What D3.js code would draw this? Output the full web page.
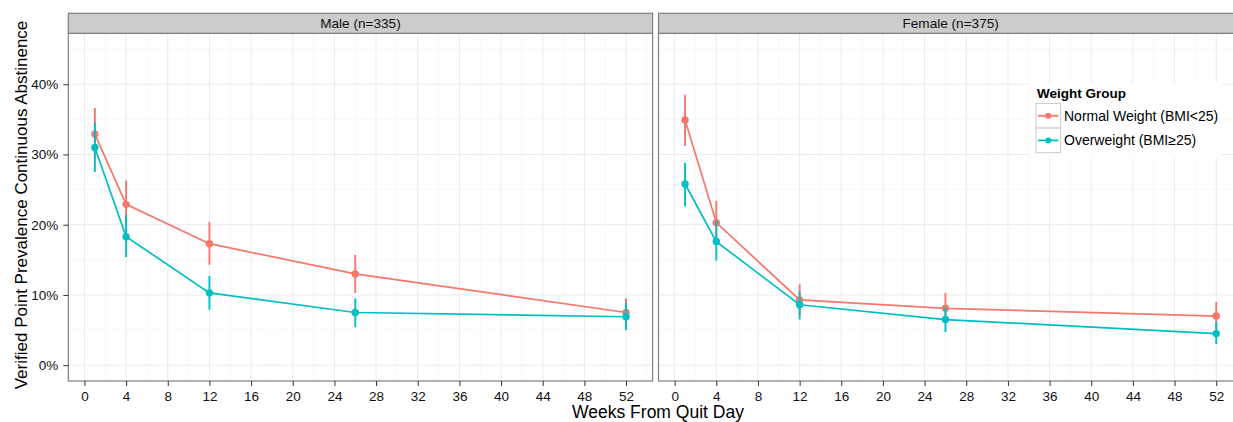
<!DOCTYPE html>
<html><head><meta charset="utf-8">
<script src="https://cdn.jsdelivr.net/npm/d3@7"></script>
<style>body{margin:0;background:#fff;} svg{display:block;font-family:"Liberation Sans",Arial,sans-serif;}</style>
</head><body>
<svg id="chart" width="1233" height="422"></svg>
<script>
const weeks = [1, 4, 12, 26, 52];
const panels = ["Male (n=335)", "Female (n=375)"];
const groups = ["Normal Weight (BMI<25)", "Overweight (BMI\u226525)"];
const colors = ["#F8766D", "#00BFC4"];
// values in %
const maleNormal      = [32.9, 22.9, 17.3, 13.0, 7.5];
const maleNormalLo    = [29.3, 19.6, 14.3, 10.3, 5.6];
const maleNormalHi    = [36.6, 26.3, 20.4, 15.7, 9.5];
const maleOver        = [31.0, 18.3, 10.3, 7.5, 6.9];
const maleOverLo      = [27.5, 15.4, 7.9, 5.4, 5.0];
const maleOverHi      = [34.5, 21.4, 12.7, 9.5, 8.9];
const femaleNormal    = [34.9, 20.3, 9.3, 8.1, 7.0];
const femaleNormalLo  = [31.2, 17.3, 7.2, 6.2, 5.2];
const femaleNormalHi  = [38.5, 23.4, 11.5, 10.3, 9.0];
const femaleOver      = [25.8, 17.6, 8.6, 6.5, 4.5];
const femaleOverLo    = [22.6, 14.9, 6.5, 4.7, 3.0];
const femaleOverHi    = [28.8, 20.6, 10.5, 8.3, 6.2];
const xTicks = d3.range(0, 53, 4);
const yTicks = [0, 10, 20, 30, 40];

const series = [
  [{m: maleNormal, lo: maleNormalLo, hi: maleNormalHi}, {m: maleOver, lo: maleOverLo, hi: maleOverHi}],
  [{m: femaleNormal, lo: femaleNormalLo, hi: femaleNormalHi}, {m: femaleOver, lo: femaleOverLo, hi: femaleOverHi}]
];

const svg = d3.select("#chart");
const pTop = 33.3, pBottom = 381, stripTop = 13.3;
const panelW = 584.3;
const lefts = [68.3, 658.5];
const y = d3.scaleLinear().domain([-2.25, 47.25]).range([pBottom, pTop]);

panels.forEach((title, pi) => {
  const L = lefts[pi];
  const x = d3.scaleLinear().domain([1 - 2.55, 52 + 2.55]).range([L, L + panelW]);
  const g = svg.append("g");
  g.append("rect").attr("x", L).attr("y", pTop).attr("width", panelW).attr("height", pBottom - pTop).attr("fill", "#fff");
  // minor grid
  d3.range(2, 55, 4).forEach(v => {
    g.append("line").attr("x1", x(v)).attr("x2", x(v)).attr("y1", pTop).attr("y2", pBottom).attr("stroke", "#f8f8f8").attr("stroke-width", 1);
  });
  [5, 15, 25, 35, 45].forEach(v => {
    g.append("line").attr("x1", L).attr("x2", L + panelW).attr("y1", y(v)).attr("y2", y(v)).attr("stroke", "#f8f8f8").attr("stroke-width", 1);
  });
  xTicks.forEach(v => {
    g.append("line").attr("x1", x(v)).attr("x2", x(v)).attr("y1", pTop).attr("y2", pBottom).attr("stroke", "#ebebeb").attr("stroke-width", 1);
  });
  yTicks.forEach(v => {
    g.append("line").attr("x1", L).attr("x2", L + panelW).attr("y1", y(v)).attr("y2", y(v)).attr("stroke", "#ebebeb").attr("stroke-width", 1);
  });
  // data
  series[pi].forEach((s, si) => {
    const pts = weeks.map((w, i) => ({w, m: s.m[i], lo: s.lo[i], hi: s.hi[i]}));
    g.append("path").datum(pts).attr("fill", "none").attr("stroke", colors[si]).attr("stroke-width", 1.7)
      .attr("d", d3.line().x(d => x(d.w)).y(d => y(d.m)));
    g.selectAll(null).data(pts).enter().append("line")
      .attr("x1", d => x(d.w)).attr("x2", d => x(d.w)).attr("y1", d => y(d.lo)).attr("y2", d => y(d.hi))
      .attr("stroke", colors[si]).attr("stroke-width", 1.9);
    g.selectAll(null).data(pts).enter().append("circle")
      .attr("cx", d => x(d.w)).attr("cy", d => y(d.m)).attr("r", 3.7).attr("fill", colors[si]);
  });
  // border
  g.append("rect").attr("x", L).attr("y", pTop).attr("width", panelW).attr("height", pBottom - pTop)
    .attr("fill", "none").attr("stroke", "#7f7f7f").attr("stroke-width", 1.2);
  // strip
  g.append("rect").attr("x", L).attr("y", stripTop).attr("width", panelW).attr("height", pTop - stripTop)
    .attr("fill", "#cccccc").attr("stroke", "#7f7f7f").attr("stroke-width", 1.2);
  g.append("text").attr("x", L + panelW / 2).attr("y", stripTop + (pTop - stripTop) / 2 + 4.8)
    .attr("text-anchor", "middle").attr("font-size", 13.6).attr("fill", "#111").text(title);
  // x axis
  const xa = g.append("g").attr("transform", `translate(0,${pBottom})`)
    .call(d3.axisBottom(x).tickValues(xTicks).tickSize(5).tickPadding(5));
  xa.select(".domain").remove();
  xa.selectAll("line").attr("stroke", "#333").attr("stroke-width", 1);
  xa.selectAll("text").attr("font-size", 13.5).attr("fill", "#111").attr("font-family", "Liberation Sans, Arial, sans-serif");
});

// y axis
const ya = svg.append("g").attr("transform", `translate(${lefts[0]},0)`)
  .call(d3.axisLeft(y).tickValues(yTicks).tickFormat(d => d + "%").tickSize(5).tickPadding(5));
ya.select(".domain").remove();
ya.selectAll("line").attr("stroke", "#333").attr("stroke-width", 1);
ya.selectAll("text").attr("font-size", 13.5).attr("fill", "#111").attr("font-family", "Liberation Sans, Arial, sans-serif");

// axis titles
svg.append("text").attr("transform", `translate(27,205) rotate(-90)`)
  .attr("text-anchor", "middle").attr("font-size", 17).attr("fill", "#000")
  .text("Verified Point Prevalence Continuous Abstinence");
svg.append("text").attr("x", 658).attr("y", 418).attr("text-anchor", "middle")
  .attr("font-size", 17.5).attr("fill", "#000").text("Weeks From Quit Day");

// legend
const lg = svg.append("g");
lg.append("rect").attr("x", 1030).attr("y", 83).attr("width", 191).attr("height", 75).attr("fill", "#fff");
lg.append("text").attr("x", 1037).attr("y", 97.5).attr("font-size", 13.5).attr("font-weight", "bold").attr("fill", "#000").text("Weight Group");
groups.forEach((gname, i) => {
  const ky = 103.5 + i * 24.6;
  lg.append("rect").attr("x", 1036).attr("y", ky).attr("width", 24.6).attr("height", 24.6)
    .attr("fill", "#fff").attr("stroke", "#cccccc").attr("stroke-width", 1);
  lg.append("line").attr("x1", 1038).attr("x2", 1058.5).attr("y1", ky + 12.3).attr("y2", ky + 12.3)
    .attr("stroke", colors[i]).attr("stroke-width", 1.8);
  lg.append("circle").attr("cx", 1048.3).attr("cy", ky + 12.3).attr("r", 3).attr("fill", colors[i]);
  lg.append("text").attr("x", 1064).attr("y", ky + 17).attr("font-size", 14).attr("fill", "#000").text(gname);
});
</script>
</body></html>
